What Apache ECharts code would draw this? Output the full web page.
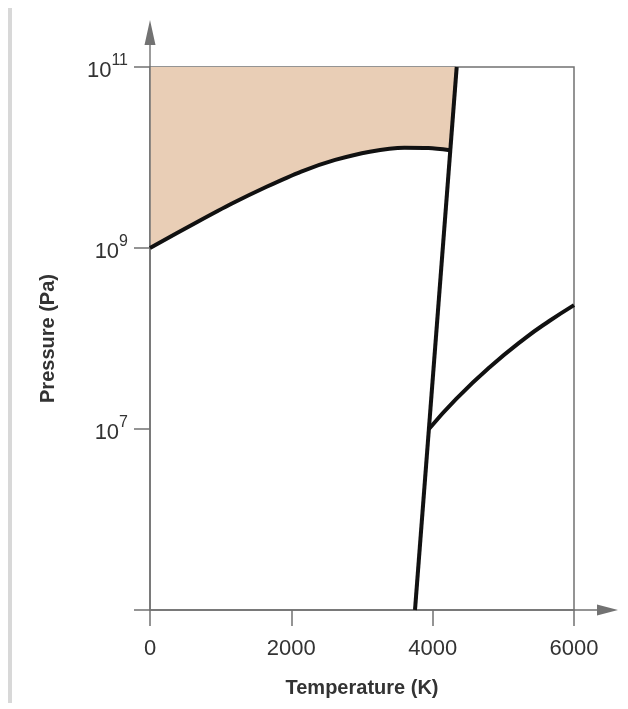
<!DOCTYPE html>
<html>
<head>
<meta charset="utf-8">
<script src="https://cdn.jsdelivr.net/npm/echarts@6/dist/echarts.min.js"></script>
<style>
  html, body { margin: 0; padding: 0; background: #fff; }
  #box { width: 628px; height: 709px; }
</style>
</head>
<body>
<div id="box"></div>
<script>
// temperature in K, pressure in Pa
var diamondT = [0, 675, 1160, 1650, 2140, 2620, 3110, 3600, 3940, 4245];
var diamondP = [1e9, 1.95e9, 3.1e9, 4.75e9, 7.0e9, 9.4e9, 1.16e10, 1.28e10, 1.27e10, 1.2e10];

var meltT = [4340, 3750];
var meltP = [1e11, 1e5];

var vaporT = [3947, 4330, 4810, 5310, 5650, 6000];
var vaporP = [1e7, 2.14e7, 4.84e7, 1.01e8, 1.56e8, 2.34e8];

var xTicks = [0, 2000, 4000, 6000];
var yTicks = [1e5, 1e7, 1e9, 1e11];

function pairs(xs, ys) {
    var out = [];
    for (var i = 0; i < xs.length; i++) out.push([xs[i], ys[i]]);
    return out;
}

var axisColor = '#727272';
var font = 'Liberation Sans, Arial, sans-serif';

var myChart = echarts.init(document.getElementById('box'));
var option = {
    animation: false,
    grid: {
        left: 150, right: 54, top: 67, bottom: 99,
        show: true,
        borderColor: axisColor,
        borderWidth: 1.5,
        z: 3
    },
    graphic: [
        { type: 'rect', left: 8, top: 8, shape: { width: 4, height: 695 }, style: { fill: '#d8d8d8' } },
        { type: 'text', left: 230, top: 104,
          style: { text: 'Diamond', fontSize: 23, fontFamily: font, fill: '#3a3a3a' } }
    ],
    xAxis: {
        type: 'value',
        min: xTicks[0], max: xTicks[xTicks.length - 1], interval: 2000,
        z: 3,
        name: 'Temperature (K)',
        nameLocation: 'middle',
        nameGap: 68,
        nameTextStyle: { fontSize: 20, fontWeight: 'bold', fontFamily: font, color: '#333' },
        axisLine: {
            lineStyle: { color: axisColor, width: 1.5 },
            symbol: ['none', 'path://M5.5,0L11,21L6.2,21L6.2,44L4.8,44L4.8,21L0,21Z'],
            symbolSize: [11, 44],
            symbolOffset: [0, 22]
        },
        axisTick: { inside: false, length: 16, lineStyle: { color: axisColor, width: 1.5 } },
        axisLabel: {
            margin: 28, fontSize: 22, fontFamily: font, color: '#333',
            formatter: function (v) { return String(v); }
        },
        splitLine: { show: false }
    },
    yAxis: {
        type: 'log',
        logBase: 10,
        min: yTicks[0], max: yTicks[yTicks.length - 1], interval: 2,
        z: 3,
        name: 'Pressure (Pa)',
        nameLocation: 'middle',
        nameGap: 92,
        nameTextStyle: { fontSize: 20, fontWeight: 'bold', fontFamily: font, color: '#333' },
        axisLine: {
            lineStyle: { color: axisColor, width: 1.5 },
            symbol: ['none', 'path://M5.5,0L11,25L6.2,25L6.2,47L4.8,47L4.8,25L0,25Z'],
            symbolSize: [11, 47],
            symbolOffset: [0, 23.5]
        },
        axisTick: { inside: false, length: 16, lineStyle: { color: axisColor, width: 1.5 } },
        axisLabel: {
            margin: 22,
            formatter: function (v) {
                var e = Math.round(Math.log10(v));
                if (e === 5) return '';
                return '{b|10}{sup|' + e + '}';
            },
            rich: {
                b: { fontSize: 22, fontFamily: font, color: '#333', lineHeight: 29, verticalAlign: 'bottom' },
                sup: { fontSize: 16, fontFamily: font, color: '#333', lineHeight: 29, verticalAlign: 'top' }
            }
        },
        splitLine: { show: false }
    },
    series: [
        {
            // diamond region, filled up to 10^11
            name: 'diamondArea',
            type: 'line',
            data: pairs(diamondT.concat([meltT[0]]), diamondP.concat([meltP[0]])),
            showSymbol: false,
            lineStyle: { width: 0 },
            areaStyle: { origin: 'end', color: '#e9ceb6', opacity: 1 }
        },
        {
            name: 'diamond',
            type: 'line',
            data: pairs(diamondT, diamondP),
            showSymbol: false,
            smooth: 0.3,
            lineStyle: { color: '#111', width: 4 }
        },
        {
            name: 'melting',
            type: 'line',
            data: pairs(meltT, meltP),
            showSymbol: false,
            lineStyle: { color: '#111', width: 4 }
        },
        {
            name: 'vapor',
            type: 'line',
            data: pairs(vaporT, vaporP),
            showSymbol: false,
            smooth: 0.5,
            lineStyle: { color: '#111', width: 4 }
        }
    ]
};
myChart.setOption(option);
</script>
</body>
</html>
